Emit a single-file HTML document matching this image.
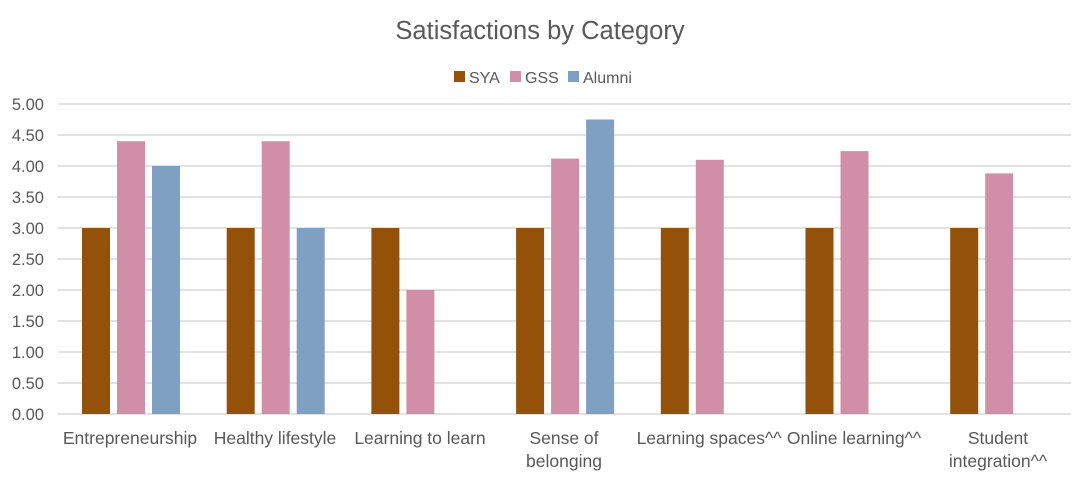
<!DOCTYPE html><html><head><style>body{margin:0;background:#fff}</style></head><body>
<svg width="1080" height="479" xmlns="http://www.w3.org/2000/svg" font-family="Liberation Sans, sans-serif" fill="#595959">
<text x="540" y="39" font-size="25.5" text-anchor="middle">Satisfactions by Category</text>
<rect x="454" y="71" width="11" height="11" fill="#93510a"/><text x="469" y="83" font-size="16">SYA</text>
<rect x="510" y="71" width="11" height="11" fill="#d08fa6"/><text x="525" y="83" font-size="16">GSS</text>
<rect x="568" y="71" width="11" height="11" fill="#7f9fc3"/><text x="583" y="83" font-size="16">Alumni</text>
<g stroke="#d9d9d9" stroke-width="1.5">
<line x1="58" x2="1071" y1="104" y2="104"/><line x1="58" x2="1071" y1="135" y2="135"/><line x1="58" x2="1071" y1="166" y2="166"/><line x1="58" x2="1071" y1="197" y2="197"/><line x1="58" x2="1071" y1="228" y2="228"/><line x1="58" x2="1071" y1="259" y2="259"/><line x1="58" x2="1071" y1="290" y2="290"/><line x1="58" x2="1071" y1="321" y2="321"/><line x1="58" x2="1071" y1="352" y2="352"/><line x1="58" x2="1071" y1="383" y2="383"/><line x1="58" x2="1071" y1="414" y2="414"/>
</g>
<g font-size="16.5" text-anchor="end">
<text x="44" y="110">5.00</text><text x="44" y="141">4.50</text><text x="44" y="172">4.00</text><text x="44" y="203">3.50</text><text x="44" y="234">3.00</text><text x="44" y="265">2.50</text><text x="44" y="296">2.00</text><text x="44" y="327">1.50</text><text x="44" y="358">1.00</text><text x="44" y="389">0.50</text><text x="44" y="420">0.00</text>
</g>
<g fill="#93510a">
<rect x="82" y="228" width="28" height="186"/><rect x="226.7" y="228" width="28" height="186"/><rect x="371.4" y="228" width="28" height="186"/><rect x="516.1" y="228" width="28" height="186"/><rect x="660.8" y="228" width="28" height="186"/><rect x="805.5" y="228" width="28" height="186"/><rect x="950.2" y="228" width="28" height="186"/>
</g>
<g fill="#d08fa6">
<rect x="117" y="141.2" width="28" height="272.8"/><rect x="261.7" y="141.2" width="28" height="272.8"/><rect x="406.4" y="290" width="28" height="124"/><rect x="551.1" y="158.6" width="28" height="255.4"/><rect x="695.8" y="159.8" width="28" height="254.2"/><rect x="840.5" y="151.1" width="28" height="262.9"/><rect x="985.2" y="173.4" width="28" height="240.6"/>
</g>
<g fill="#7f9fc3">
<rect x="152" y="166" width="28" height="248"/><rect x="296.7" y="228" width="28" height="186"/><rect x="586.1" y="119.5" width="28" height="294.5"/>
</g>
<g font-size="17.5" text-anchor="middle">
<text x="130" y="444">Entrepreneurship</text>
<text x="275" y="444">Healthy lifestyle</text>
<text x="420" y="444">Learning to learn</text>
<text x="564" y="444">Sense of</text><text x="564" y="467">belonging</text>
<text x="709" y="444">Learning spaces^^</text>
<text x="854" y="444">Online learning^^</text>
<text x="998" y="444">Student</text><text x="998" y="467">integration^^</text>
</g>
</svg></body></html>
